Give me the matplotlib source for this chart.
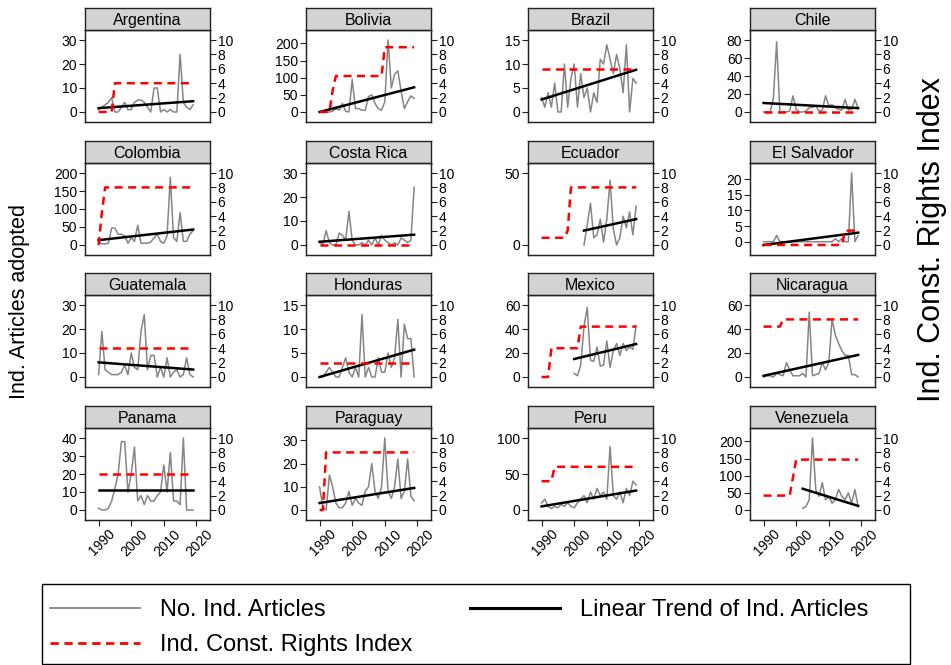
import matplotlib.pyplot as plt
from matplotlib.lines import Line2D
from matplotlib.patches import Rectangle
from matplotlib.transforms import ScaledTranslation
import numpy as np

plt.rcParams['font.family'] = ['Liberation Sans', 'DejaVu Sans']

years = np.arange(1990, 2020)

# articles adopted per year (grey), constitutional rights index (red), trend end points (black)
argentina_articles = [1, 2, 3, 4, 6, 0, 0, 2, 4, 1, 1, 4, 5, 5, 4, 2, 0, 10, 10, 0, 1, 0, 1, 0, 0, 24, 4, 2, 1, 3]
argentina_index = [0] * 5 + [4] * 25
argentina_trend = [1.6, 4.5]

bolivia_articles = [0, 0, 0, 0, 2, 10, 5, 25, 2, 0, 95, 10, 10, 5, 5, 45, 50, 25, 10, 5, 30, 210, 70, 110, 120, 60, 10, 30, 47, 40]
bolivia_index = [0] * 4 + [3] + [5] * 15 + [9] * 10
bolivia_trend = [0, 72]

brazil_articles = [3, 1, 4, 1, 6, 0, 0, 10, 1, 7, 10, 1, 8, 3, 5, 0, 4, 2, 11, 10, 14, 11, 8, 12, 9, 4, 14, 0, 7, 6]
brazil_index = [6] * 30
brazil_trend = [2.6, 8.8]

chile_articles = [0, 0, 0, 15, 78, 0, 0, 0, 1, 18, 3, 0, 0, 1, 5, 5, 7, 1, 2, 18, 7, 8, 5, 3, 2, 14, 2, 3, 14, 4]
chile_index = [0] * 30
chile_trend = [10, 4.3]

colombia_articles = [10, 3, 3, 5, 47, 47, 30, 30, 25, 5, 20, 10, 55, 5, 5, 5, 8, 20, 30, 10, 5, 25, 188, 20, 10, 90, 10, 10, 30, 40]
colombia_index = [0, 4.5] + [8] * 28
colombia_trend = [13.5, 43]

costarica_articles = [1, 0, 6, 1, 0, 0, 5, 4, 2, 14, 2, 0, 0, 1, 0, 2, 0, 3, 0, 4, 2, 1, 0, 1, 0, 3, 2, 1, 2, 24]
costarica_index = [0] * 30
costarica_trend = [1.35, 4.3]

ecuador_articles = [0, 14, 29, 5, 7, 18, 2, 18, 45, 11, 0, 5, 20, 12, 23, 7, 27]
ecuador_index = [1] * 8 + [2] + [8] * 21
ecuador_trend = [10, 18]

elsalvador_articles = [0, 0, 0, 0, 2] + [0] * 17 + [1, 0, 1, 0, 0, 22, 0, 2]
elsalvador_index = [0] * 25 + [2] * 5
elsalvador_trend = [-1.05, 2.9]

guatemala_articles = [1, 19, 3, 2, 1, 1, 1, 2, 5, 1, 10, 4, 3, 19, 26, 3, 9, 9, 0, 4, 0, 8, 0, 2, 3, 0, 1, 8, 1, 0]
guatemala_index = [4] * 30
guatemala_trend = [6.1, 3.1]

honduras_articles = [0, 0, 1, 2, 1, 0, 0, 2, 4, 1, 0, 2, 0, 13, 0, 2, 0, 0, 4, 1, 1, 5, 2, 4, 12, 0, 11, 8, 8, 0]
honduras_index = [2] * 30
honduras_trend = [0, 5.7]

mexico_articles = [3, 1, 10, 42, 58, 14, 13, 25, 9, 10, 30, 8, 22, 28, 18, 28, 22, 25, 23, 43]
mexico_index = [0] * 3 + [4] * 9 + [7] * 18
mexico_trend = [15, 27.5]

nicaragua_articles = [0, 1, 1, 0, 3, 2, 1, 12, 6, 1, 1, 1, 3, 0, 54, 1, 2, 3, 12, 6, 12, 48, 35, 28, 22, 18, 18, 2, 2, 0]
nicaragua_index = [7] * 6 + [8] * 24
nicaragua_trend = [1, 18.4]

panama_articles = [1, 0, 0, 1, 5, 12, 20, 38, 38, 10, 20, 35, 5, 8, 3, 8, 5, 5, 8, 10, 25, 10, 32, 5, 5, 3, 40, 0, 0, 0]
panama_index = [5] * 30
panama_trend = [11, 11]

paraguay_articles = [10, 1, 0, 15, 10, 3, 1, 1, 3, 8, 2, 5, 3, 2, 8, 10, 20, 8, 5, 10, 31, 8, 5, 10, 22, 5, 8, 22, 6, 4]
paraguay_index = [0, 0] + [8] * 28
paraguay_trend = [3, 9.5]

peru_articles = [10, 15, 5, 2, 5, 3, 8, 5, 10, 5, 3, 10, 15, 20, 10, 25, 15, 30, 20, 25, 15, 88, 20, 15, 25, 10, 30, 20, 40, 35]
peru_index = [4] * 4 + [6] * 26
peru_trend = [5, 27]

venezuela_articles = [5, 10, 30, 210, 60, 40, 80, 30, 40, 20, 30, 60, 40, 30, 50, 20, 60, 10]
venezuela_index = [2] * 9 + [4.5] + [7] * 20
venezuela_trend = [62, 12]

countries = ["Argentina", "Bolivia", "Brazil", "Chile",
             "Colombia", "Costa Rica", "Ecuador", "El Salvador",
             "Guatemala", "Honduras", "Mexico", "Nicaragua",
             "Panama", "Paraguay", "Peru", "Venezuela"]
articles = [argentina_articles, bolivia_articles, brazil_articles, chile_articles,
            colombia_articles, costarica_articles, ecuador_articles, elsalvador_articles,
            guatemala_articles, honduras_articles, mexico_articles, nicaragua_articles,
            panama_articles, paraguay_articles, peru_articles, venezuela_articles]
indexes = [argentina_index, bolivia_index, brazil_index, chile_index,
           colombia_index, costarica_index, ecuador_index, elsalvador_index,
           guatemala_index, honduras_index, mexico_index, nicaragua_index,
           panama_index, paraguay_index, peru_index, venezuela_index]
trends = [argentina_trend, bolivia_trend, brazil_trend, chile_trend,
          colombia_trend, costarica_trend, ecuador_trend, elsalvador_trend,
          guatemala_trend, honduras_trend, mexico_trend, nicaragua_trend,
          panama_trend, paraguay_trend, peru_trend, venezuela_trend]
left_ticks = [[0, 10, 20, 30], [0, 50, 100, 150, 200], [0, 5, 10, 15], [0, 20, 40, 60, 80],
              [0, 50, 100, 150, 200], [0, 10, 20, 30], [0, 50], [0, 5, 10, 15, 20],
              [0, 10, 20, 30], [0, 5, 10, 15], [0, 20, 40, 60], [0, 20, 40, 60],
              [0, 10, 20, 30, 40], [0, 10, 20, 30], [0, 50, 100], [0, 50, 100, 150, 200]]
index_ticks = [0, 2, 4, 6, 8, 10]
year_ticks = [1990, 2000, 2010, 2020]

W, H = 951, 665
col_x = [85, 306, 528, 750]
row_y = [30, 163, 295, 428]
pw, ph, sh = 125, 92, 22
margin = 0.139

GREY = "#858585"
RED = "#ff0000"
EDGE = "#222222"


def rangeWithMargin(lo, hi):
    r = hi - lo
    return lo - margin * r, hi + margin * r


def drawPanel(i):
    r, c = divmod(i, 4)
    x0, y0 = col_x[c], row_y[r]
    ax = fig.add_axes([x0 / W, 1 - (y0 + ph) / H, pw / W, ph / H])
    strip = fig.add_axes([x0 / W, 1 - y0 / H, pw / W, sh / H])
    strip.set_facecolor("#d3d3d3")
    strip.set_xticks([])
    strip.set_yticks([])
    for s in strip.spines.values():
        s.set_color(EDGE)
        s.set_linewidth(1.0)
    strip.text(0.5, 0.45, countries[i], ha="center", va="center", fontsize=11.5)

    a = np.array(articles[i], dtype=float)
    yrs = years[len(years) - len(a):]
    ax.plot(yrs, a, color=GREY, lw=1.1, zorder=2)
    ax.plot([yrs[0], yrs[-1]], trends[i], color="black", lw=1.8, zorder=3)
    lo = min(0, a.min(), min(trends[i]))
    hi = max(left_ticks[i][-1], a.max(), max(trends[i]))
    ax.set_ylim(*rangeWithMargin(lo, hi))
    ax.set_yticks(left_ticks[i])
    ax.set_xlim(*rangeWithMargin(1990, 2020))
    ax.set_xticks(year_ticks)

    ax2 = ax.twinx()
    ax2.plot(years, indexes[i], color=RED, lw=1.8, ls=(0, (3.2, 2.2)), zorder=4)
    ax2.set_ylim(*rangeWithMargin(0, 10))
    ax2.set_yticks(index_ticks)

    for a_ in (ax, ax2):
        for s in a_.spines.values():
            s.set_color(EDGE)
            s.set_linewidth(0.9)
        a_.tick_params(labelsize=10, length=4, width=0.8, color=EDGE, pad=1.5)
    if r == 3:
        ax.set_xticklabels([str(y) for y in year_ticks], rotation=45, ha="center")
        ax.tick_params(axis="x", labelsize=10, pad=1)
        shift = ScaledTranslation(3.5 / 100, 0, fig.dpi_scale_trans)
        for lab in ax.get_xticklabels():
            lab.set_transform(lab.get_transform() + shift)
    else:
        ax.tick_params(axis="x", bottom=False, labelbottom=False)


fig = plt.figure(figsize=(W / 100, H / 100), dpi=100)
for i in range(len(countries)):
    drawPanel(i)

fig.text(20 / W, 1 - 302 / H, "Ind. Articles adopted", rotation=90,
         ha="center", va="center", fontsize=15.5)
fig.text(932 / W, 1 - 240 / H, "Ind. Const. Rights Index", rotation=90,
         ha="center", va="center", fontsize=22)

# legend frame spans the full width, entries sit inside it
fig.patches.append(Rectangle((42 / W, 1 / H), 868 / W, 80 / H, transform=fig.transFigure,
                             facecolor="white", edgecolor="black", lw=1.0, zorder=0))
handles = [Line2D([], [], color=GREY, lw=1.3),
           Line2D([], [], color=RED, lw=2, ls=(0, (3, 2))),
           Line2D([], [], color="black", lw=2.2)]
labels = ["No. Ind. Articles", "Ind. Const. Rights Index", "Linear Trend of Ind. Articles"]
leg = fig.legend(handles, labels, loc="upper left", ncol=2,
                 bbox_to_anchor=(50 / W, 1 - 599 / H),
                 fontsize=17, handlelength=3.8, handletextpad=0.85,
                 labelspacing=0.55, borderpad=0, borderaxespad=0,
                 columnspacing=2.45, frameon=False)

fig.savefig("out.png", dpi=100)
